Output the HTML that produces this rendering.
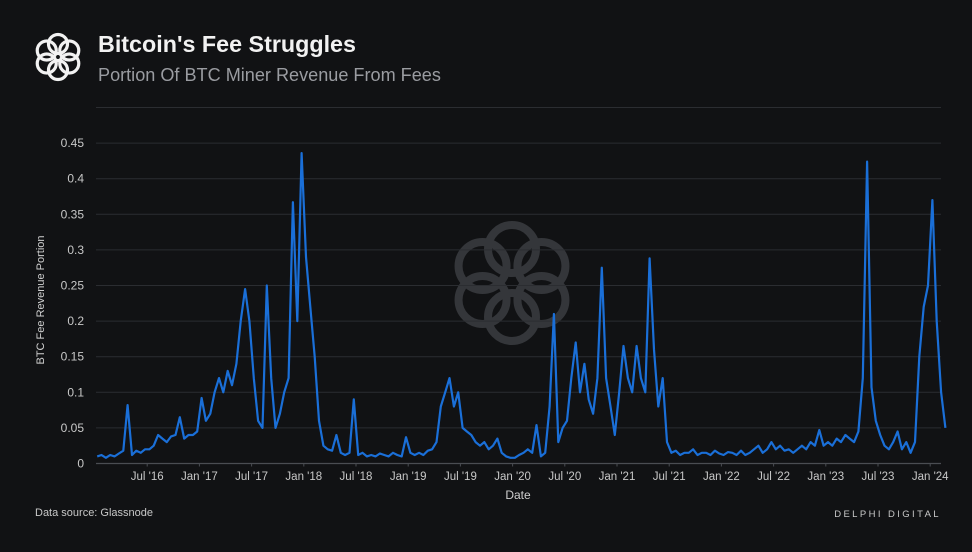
<!DOCTYPE html>
<html><head><meta charset="utf-8">
<style>
html,body{margin:0;padding:0;background:#111214;}
body{width:972px;height:547px;overflow:hidden;font-family:"Liberation Sans",sans-serif;}
svg text{font-family:"Liberation Sans",sans-serif;}
</style></head>
<body>
<svg id="chart" width="972" height="547" viewBox="0 0 972 547" xmlns="http://www.w3.org/2000/svg">
<rect width="972" height="547" fill="#111214"/>
<g id="logo"></g>
<g id="wm"></g>
<text x="98" y="52" fill="#f2f2f2" font-size="23.3" font-weight="bold">Bitcoin's Fee Struggles</text>
<text x="98" y="81" fill="#9a9ca1" font-size="18.1">Portion Of BTC Miner Revenue From Fees</text>
<g id="grid"></g>
<g id="yticks"></g>
<g id="xticks"></g>
<path id="line" fill="none" stroke="#1a6fd8" stroke-width="2.2" stroke-linejoin="round"/>
<text transform="translate(44,300) rotate(-90)" text-anchor="middle" fill="#d0d0d0" font-size="11">BTC Fee Revenue Portion</text>
<text x="518" y="499" text-anchor="middle" fill="#d0d0d0" font-size="12">Date</text>
<text x="35" y="516" fill="#c8c8c8" font-size="11">Data source: Glassnode</text>
<text x="941" y="517" text-anchor="end" fill="#c8c8c8" font-size="9.5" letter-spacing="2.4">DELPHI DIGITAL</text>
</svg>
<script>
// semimonthly values, Jan 2016 .. Feb 2024
const seriesValues = [
// 2016
.01,.012, .008,.012, .01,.014, .018,.082, .012,.018, .015,.02, .02,.025, .04,.035, .03,.038, .04,.065, .035,.04, .04,.045,
// 2017
.092,.06, .07,.1, .12,.1, .13,.11, .14,.2, .245,.2, .12,.06, .05,.25, .12,.05, .07,.1, .12,.367, .2,.436,
// 2018
.29,.22, .15,.06, .025,.02, .018,.04, .015,.012, .015,.09, .012,.015, .01,.012, .01,.014, .012,.01, .015,.012, .01,.037,
// 2019
.015,.012, .015,.012, .018,.02, .03,.08, .1,.12, .08,.1, .05,.045, .04,.03, .025,.03, .02,.025, .035,.015, .01,.008,
// 2020
.008,.012, .015,.02, .015,.054, .01,.015, .08,.21, .03,.05, .06,.12, .17,.1, .14,.09, .07,.12, .275,.12, .08,.04,
// 2021
.1,.165, .12,.1, .165,.12, .1,.288, .16,.08, .12,.03, .015,.018, .012,.015, .015,.02, .012,.015, .015,.012, .018,.014,
// 2022
.012,.016, .015,.012, .018,.012, .015,.02, .025,.015, .02,.03, .02,.025, .018,.02, .015,.02, .025,.02, .03,.025, .047,.025,
// 2023
.03,.025, .035,.03, .04,.035, .03,.045, .12,.424, .107,.06, .04,.025, .02,.03, .045,.02, .03,.015, .03,.15, .22,.25,
// 2024
.37,.2, .1,.05
];
const yTickLabels = ["0","0.05","0.1","0.15","0.2","0.25","0.3","0.35","0.4","0.45"];
const yTickValues = [0,0.05,0.1,0.15,0.2,0.25,0.3,0.35,0.4,0.45];
const xTickLabels = ["Jul '16","Jan '17","Jul '17","Jan '18","Jul '18","Jan '19","Jul '19","Jan '20","Jul '20","Jan '21","Jul '21","Jan '22","Jul '22","Jan '23","Jul '23","Jan '24"];
const xTickMonths = [6,12,18,24,30,36,42,48,54,60,66,72,78,84,90,96];

const NS="http://www.w3.org/2000/svg";
const X0=95, PXM=8.7, Y0=463.5, PXV=712;
function xScale(m){return X0+m*PXM;}
function yScale(v){return Y0-v*PXV;}
function mk(tag,attrs,parent){const e=document.createElementNS(NS,tag);for(const k in attrs)e.setAttribute(k,attrs[k]);parent.appendChild(e);return e;}

const grid=document.getElementById('grid');
const yt=document.getElementById('yticks');
const gv=yTickValues.concat([0.5]);
gv.forEach((v,i)=>{
  if(v===0)return;
  const l=mk('line',{x1:96,x2:941,y1:yScale(v),y2:yScale(v),stroke:'#2b2d31','stroke-width':1},grid);
  
  
});
yTickValues.forEach((v,i)=>{
  const t=mk('text',{x:84,y:yScale(v)+4,'text-anchor':'end',fill:'#c8c8c8','font-size':12},yt);
  t.textContent=yTickLabels[i];
  
  
});
const xt=document.getElementById('xticks');
const ax=mk('line',{x1:96,x2:941,y1:Y0,y2:Y0,stroke:'#4a4d52','stroke-width':1.2},xt);


xTickMonths.forEach((m,i)=>{
  const x=xScale(m);
  const tk=mk('line',{x1:x,x2:x,y1:Y0,y2:Y0+3,stroke:'#4a4d52'},xt);
  
  
  const t=mk('text',{x:x,y:480,'text-anchor':'middle',fill:'#c8c8c8','font-size':11.5},xt);
  t.textContent=xTickLabels[i];
  
  
});
let d='';
seriesValues.forEach((v,i)=>{
  const m=i/2+0.25;
  d+=(i?'L':'M')+xScale(m).toFixed(1)+','+yScale(v).toFixed(1);
});
document.getElementById('line').setAttribute('d',d);

function ringLogo(g,cx,cy,R,r,sw,color){
  for(let k=0;k<6;k++){
    const a=k*Math.PI/3+Math.PI/6;
    const c=mk('circle',{cx:cx+R*Math.cos(a),cy:cy+R*Math.sin(a),r:r,fill:'none',stroke:color,'stroke-width':sw},g);
    
    
  }
}
ringLogo(document.getElementById('logo'),58,57,13,9.5,3.2,'#f2f2f2');
ringLogo(document.getElementById('wm'),512,283,34,24,8,'#34363a');
</script>
</body></html>
